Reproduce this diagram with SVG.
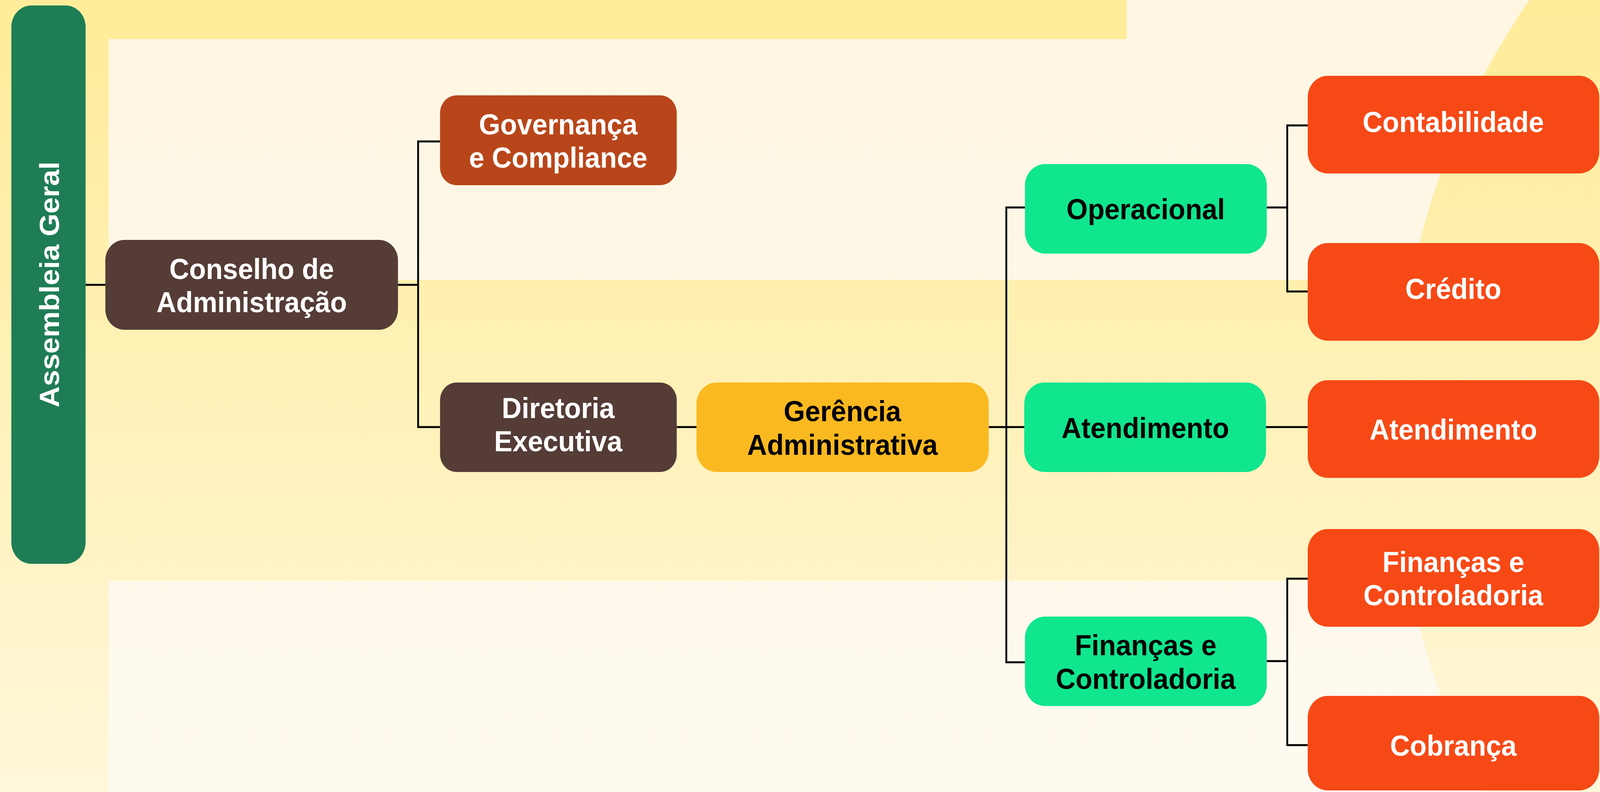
<svg xmlns="http://www.w3.org/2000/svg" width="4374" height="2027" viewBox="0 0 4374 2027" preserveAspectRatio="none">
<defs>
<linearGradient id="bgY" x1="0" y1="0" x2="0" y2="2027" gradientUnits="userSpaceOnUse">
<stop offset="0" stop-color="#FFEC9A"/>
<stop offset="0.5" stop-color="#FFF1B8"/>
<stop offset="1" stop-color="#FFF7DA"/>
</linearGradient>
<linearGradient id="bgC" x1="0" y1="0" x2="0" y2="2027" gradientUnits="userSpaceOnUse">
<stop offset="0" stop-color="#FFF6E2"/>
<stop offset="1" stop-color="#FFFAF0"/>
</linearGradient>
</defs>
<style>
svg{width:100vw;height:100vh;overflow:hidden}
.lbl{font-family:"Liberation Sans",Arial,sans-serif;font-weight:700;font-size:75px;text-anchor:middle}
.w{fill:#FFFFFF}
.k{fill:#000000}
.con{fill:none;stroke:#000;stroke-width:5}
.brown{fill:#553C36}
.rust{fill:#B9461A}
.gold{fill:#FAB920}
.green{fill:#10E68E}
.red{fill:#F74916}
</style>
<g id="background">
<rect x="0" y="0" width="4374" height="2027" fill="url(#bgY)"/>
<rect x="297" y="0" width="4077" height="716" fill="url(#bgC)"/>
<rect x="0" y="0" width="3080" height="100" fill="#FFED9C"/>
<rect x="297" y="1486" width="4077" height="541" fill="url(#bgC)"/>
<circle cx="5686" cy="1112" r="1871" fill="url(#bgY)"/>
</g>
<g id="connectors">
<line class="con" x1="234" y1="729" x2="288" y2="729"/>
<line class="con" x1="1088" y1="729" x2="1143" y2="729"/>
<polyline class="con" points="1203,362 1143,362 1143,1093 1203,1093"/>
<line class="con" x1="1850" y1="1093" x2="1904" y2="1093"/>
<line class="con" x1="2703" y1="1093" x2="2800" y2="1093"/>
<polyline class="con" points="2802,531 2751,531 2751,1695 2802,1695"/>
<line class="con" x1="3463" y1="531" x2="3519" y2="531"/>
<polyline class="con" points="3575,321 3519,321 3519,746 3575,746"/>
<line class="con" x1="3461" y1="1093" x2="3575" y2="1093"/>
<line class="con" x1="3463" y1="1692" x2="3519" y2="1692"/>
<polyline class="con" points="3575,1481 3519,1481 3519,1907 3575,1907"/>
</g>
<g id="assembleia">
<rect x="31" y="14" width="203" height="1429" rx="55" fill="#1F7D55"/>
<text class="lbl w" transform="translate(161,728) rotate(-90)">Assembleia Geral</text>
</g>
<g id="conselho">
<rect class="brown" x="288" y="614" width="800" height="230" rx="52"/>
<text class="lbl w" x="688" y="714">Conselho de</text>
<text class="lbl w" x="688" y="799">Administração</text>
</g>
<g id="governanca">
<rect class="rust" x="1203" y="244" width="647" height="230" rx="45"/>
<text class="lbl w" x="1526" y="344">Governança</text>
<text class="lbl w" x="1526" y="429">e Compliance</text>
</g>
<g id="diretoria">
<rect class="brown" x="1203" y="979" width="647" height="229" rx="45"/>
<text class="lbl w" x="1526" y="1070">Diretoria</text>
<text class="lbl w" x="1526" y="1155">Executiva</text>
</g>
<g id="gerencia">
<rect class="gold" x="1904" y="979" width="799" height="229" rx="55"/>
<text class="lbl k" x="2303" y="1078">Gerência</text>
<text class="lbl k" x="2303" y="1164">Administrativa</text>
</g>
<g id="operacional">
<rect class="green" x="2802" y="420" width="661" height="229" rx="55"/>
<text class="lbl k" x="3132" y="561">Operacional</text>
</g>
<g id="atendimento-ger">
<rect class="green" x="2800" y="979" width="661" height="229" rx="55"/>
<text class="lbl k" x="3131" y="1121">Atendimento</text>
</g>
<g id="financas-ger">
<rect class="green" x="2802" y="1578" width="661" height="229" rx="55"/>
<text class="lbl k" x="3132" y="1677">Finanças e</text>
<text class="lbl k" x="3132" y="1763">Controladoria</text>
</g>
<g id="contabilidade">
<rect class="red" x="3575" y="194" width="797" height="250" rx="55"/>
<text class="lbl w" x="3973" y="338">Contabilidade</text>
</g>
<g id="credito">
<rect class="red" x="3575" y="622" width="797" height="250" rx="55"/>
<text class="lbl w" x="3973" y="765">Crédito</text>
</g>
<g id="atendimento">
<rect class="red" x="3575" y="973" width="797" height="250" rx="55"/>
<text class="lbl w" x="3973" y="1125">Atendimento</text>
</g>
<g id="financas">
<rect class="red" x="3575" y="1354" width="797" height="250" rx="55"/>
<text class="lbl w" x="3973" y="1464">Finanças e</text>
<text class="lbl w" x="3973" y="1549">Controladoria</text>
</g>
<g id="cobranca">
<rect class="red" x="3575" y="1781" width="797" height="242" rx="55"/>
<text class="lbl w" x="3973" y="1934">Cobrança</text>
</g>
</svg>
